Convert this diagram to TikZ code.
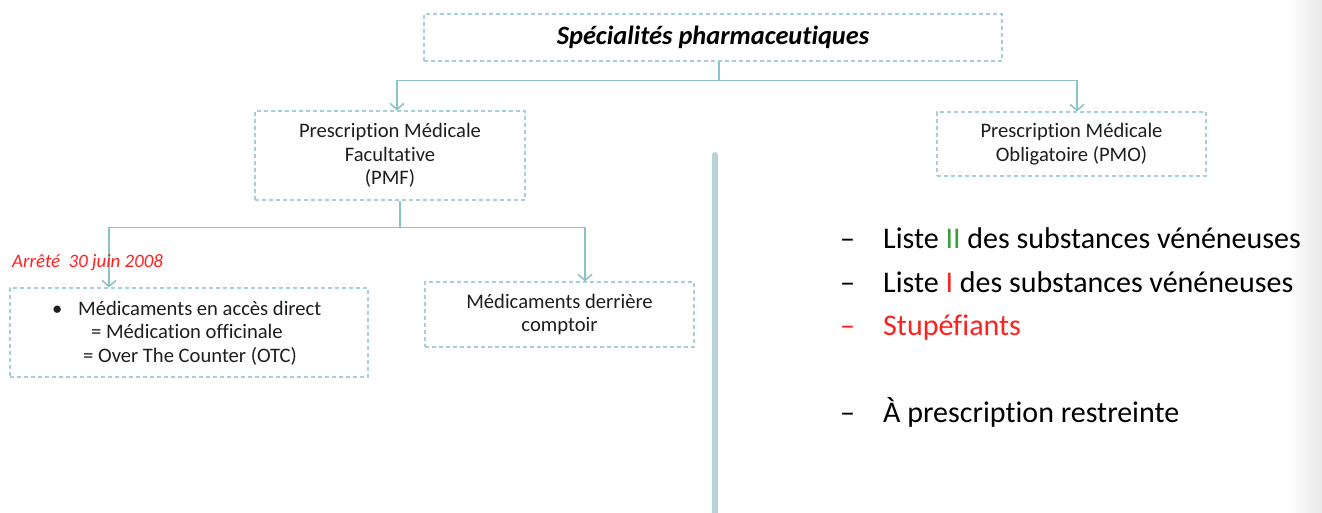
\documentclass[tikz,border=0pt]{standalone}
\usepackage{fontspec}
\setmainfont{Carlito}[Ligatures=NoCommon]
\usetikzlibrary{arrows.meta}
\definecolor{lnc}{HTML}{8CC3C8}
\definecolor{boxc}{HTML}{A6D0D4}
\definecolor{barc}{HTML}{B7D1D6}
\definecolor{txtc}{HTML}{1E1E1E}
\definecolor{redc}{HTML}{FF2020}
\definecolor{grnc}{HTML}{3A9E3A}
\begin{document}
\begin{tikzpicture}[x=1pt,y=-1pt,
  dbox/.style={draw=boxc, line width=1.1pt, dash pattern=on 4pt off 3pt, inner sep=0pt,
    align=center, font=\fontsize{20.6}{23.5}\selectfont, text=txtc},
  conn/.style={draw=lnc, line width=1.6pt},
  arr/.style={conn, -{Straight Barb[length=6pt,width=14pt]}},
  txt/.style={inner sep=0pt, anchor=base west, text=txtc, font=\fontsize{20.6}{23.5}\selectfont},
  big/.style={inner sep=0pt, anchor=base west, text=black, font=\fontsize{30}{34}\selectfont}]
\useasboundingbox (0,0) rectangle (1322,512);
\shade[left color=white, right color=black!9] (1288,0) rectangle (1322,512);
% boxes
\node[dbox, minimum width=578pt, minimum height=47pt, font=\fontsize{26.4}{30}\selectfont\bfseries\itshape, text=black]
  (top) at (713,37.5) {Spécialités pharmaceutiques};
\node[dbox, minimum width=270pt, minimum height=89pt] (pmf) at (390,155.5)
  {Prescription Médicale\\Facultative\\(PMF)};
\node[dbox, minimum width=269pt, minimum height=64pt] (pmo) at (1071.5,144)
  {Prescription Médicale\\Obligatoire (PMO)};
\node[dbox, minimum width=358pt, minimum height=89pt] (otc) at (189,332.5) {};
\node[dbox, minimum width=269pt, minimum height=65pt] (mdc) at (559.5,314.5)
  {Médicaments derrière\\comptoir};
% connectors
\draw[arr] ([xshift=6pt]top.south) -- ++(0,19) -| ([xshift=7pt]pmf.north);
\draw[arr] ([xshift=6pt]top.south) -- ++(0,19) -| ([xshift=5.5pt]pmo.north);
\draw[arr] ([xshift=10pt]pmf.south) -- ++(0,27) -| ([xshift=-80pt]otc.north);
\draw[arr] ([xshift=10pt]pmf.south) -- ++(0,27) -| ([xshift=25.5pt]mdc.north);
% vertical bar
\draw[barc, line width=6pt, line cap=round] (715,155) -- (715,515);
% texts
\node[inner sep=0pt, anchor=base west, text=redc, font=\fontsize{18.9}{22}\selectfont\itshape]
  (arrete) at (12,267) {Arrêté\ \ 30 juin 2008};
\node[txt] (b1) at (52,315) {\textbullet};
\node[txt] (l1) at (78,315) {Médicaments en accès direct};
\node[txt] (l2) at (91,338) {= Médication officinale};
\node[txt] (l3) at (83,362) {= Over The Counter (OTC)};
% right list
\node[big] (d1) at (840,248) {–};
\node[big] (r1) at (883,248) {Liste \textcolor{grnc}{II} des substances vénéneuses};
\node[big] (d2) at (840,292) {–};
\node[big] (r2) at (883,292) {Liste \textcolor{redc}{I} des substances vénéneuses};
\node[big, text=redc] (d3) at (840,335) {–};
\node[big, text=redc] (r3) at (883,335) {Stupéfiants};
\node[big] (d4) at (840,422) {–};
\node[big] (r4) at (883,422) {À prescription restreinte};
\end{tikzpicture}
\end{document}
